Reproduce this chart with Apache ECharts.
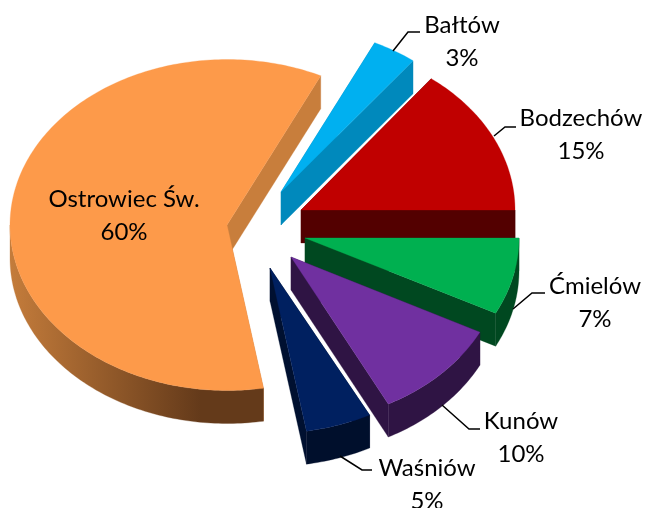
<!DOCTYPE html>
<html><head><meta charset="utf-8">
<style>html,body{margin:0;padding:0;background:#fff}#c{width:645px;height:508px}</style>
<script src="https://cdn.jsdelivr.net/npm/echarts@6/dist/echarts.min.js"></script>
</head><body><div id="c"></div>
<script>
const categories = ["Bałtów","Bodzechów","Ćmielów","Kunów","Waśniów","Ostrowiec Św."];
const values = [3.3,14.6,7.49,9.91,4.9,59.8];

const topColors  = ["#00B0F0","#C00000","#00B050","#7030A0","#002060","#FD9A4A"];
const cutColors  = ["#0089BC","#530000","#004820","#2F1444","#001030","#C87E3C"];
const wallColors = ["#0089BC","#530000","#004820","#2F1444","#000F2C","#643A1A"];
const centerX = 260, centerY = 228, radiusY = 165.5, depth = 33, firstAngle = 25.6;
const radiusX = [217,214,214,212,217,217];
const explodeX = [21,41,45,31,10,-33];
const explodeY = [-36,-18,10,29,40,-3];
const labelX = [462,581,595,521,427,124];
const labelY = [42,135,303,438,485,216];
const leaders = [
  [[393,51],[408,32],[420,32]],
  [[494,136],[505,127],[516,127]],
  [[513,309],[532,293],[545,293]],
  [[442,405],[469,429],[480,429]],
  [[340,456],[362,470],[372,470]],
  null
];
const FONT = '24px Lato, Carlito, "Open Sans", sans-serif';

const total = values.reduce((a,b)=>a+b,0);
const startAngles = [];
values.reduce((acc,v,i)=>{startAngles[i]=acc;return acc+v/total*360;},firstAngle);

function renderSlice(params, api){
  const i = params.dataIndex, val = api.value(0);
  const a0 = startAngles[i], a1 = a0 + val/total*360;
  const ax = centerX + explodeX[i], ay = centerY + explodeY[i];
  const point = deg => {
    const t = deg*Math.PI/180;
    return [ax+radiusX[i]*Math.sin(t), ay-radiusY*Math.cos(t)];
  };
  const arc = (from,to) => {
    const pts = [], n = Math.max(2, Math.ceil(to-from));
    for(let k=0;k<=n;k++) pts.push(point(from+(to-from)*k/n));
    return pts;
  };
  const rim = arc(a0,a1);
  const down = p => [p[0],p[1]+depth];
  const wallFill = i===5
    ? {type:'linear',x:10,y:0,x2:200,y2:0,global:true,colorStops:[
        {offset:0,color:'#C47C3B'},{offset:1,color:'#643A1A'}]}
    : wallColors[i];
  const first = rim[0], last = rim[rim.length-1], apex=[ax,ay];
  const poly = (pts,fill)=>({type:'polygon',shape:{points:pts},style:{fill,stroke:fill,lineWidth:0.3}});
  const children = [
    poly([apex,first,down(first),down(apex)],cutColors[i]),
    poly([apex,last,down(last),down(apex)],cutColors[i])
  ];
  // the outer wall only faces the viewer on the front half of the ellipse
  const w0 = Math.max(a0,90), w1 = Math.min(a1,270);
  if(w1>w0){
    const wr = arc(w0,w1);
    children.push(poly(wr.concat(wr.slice().reverse().map(down)),wallFill));
  }
  children.push(poly([apex].concat(rim),topColors[i]));
  if(leaders[i]) children.push({type:'polyline',shape:{points:leaders[i]},style:{fill:null,stroke:'#000',lineWidth:1.5}});
  children.push({type:'text',style:{
    text:categories[i]+"\n"+Math.round(val)+"%",
    x:labelX[i],y:labelY[i],align:'center',verticalAlign:'middle',
    font:FONT,lineHeight:33,fill:'#000'}});
  return {type:'group',children};
}

const chart = echarts.init(document.getElementById('c'),null,{renderer:'canvas'});
chart.setOption({
  backgroundColor:'#fff',animation:false,
  series:[{type:'custom',coordinateSystem:'none',silent:true,
    data:values.map((v,i)=>({name:categories[i],value:[v]})),
    encode:{value:0},renderItem:renderSlice}]
});
</script></body></html>
